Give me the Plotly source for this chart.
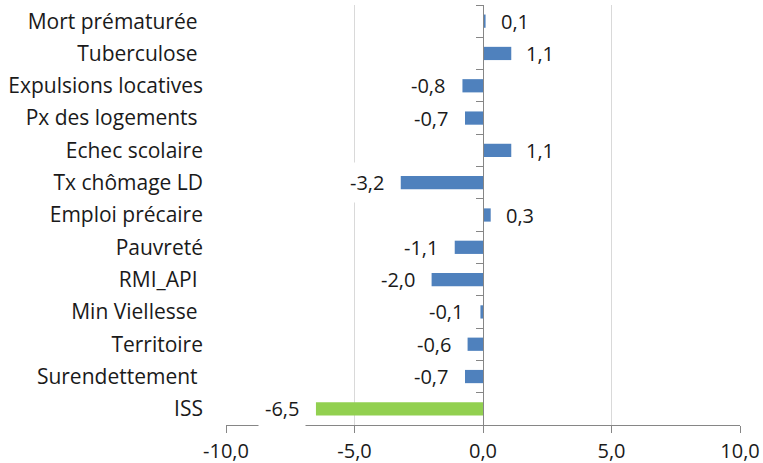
import plotly.graph_objects as go

categories = ["Mort prématurée\u00a0", "Tuberculose\u00a0", "Expulsions locatives", "Px des logements\u00a0",
              "Echec scolaire", "Tx chômage LD", "Emploi précaire", "Pauvreté", "RMI_API\u00a0",
              "Min Viellesse\u00a0", "Territoire", "Surendettement\u00a0", "ISS"]
values = [0.1, 1.1, -0.8, -0.7, 1.1, -3.2, 0.3, -1.1, -2.0, -0.1, -0.6, -0.7, -6.5]
colors = ["#4f81bd"] * 12 + ["#92d050"]
x_ticks = [-10, -5, 0, 5, 10]


def fmt(v):
    return f"{v:.1f}".replace(".", ",")


FONT = "Open Sans"
TXT = "#1a1a1a"
n = len(categories)

fig = go.Figure()
fig.add_trace(go.Bar(x=values, y=categories, orientation="h", marker=dict(color=colors, line=dict(width=0)),
                     width=0.41, hoverinfo="skip", showlegend=False))
fig.add_trace(go.Scatter(x=[0] * n, y=categories, yaxis="y2", mode="markers",
                         marker=dict(opacity=0), hoverinfo="skip", showlegend=False))

pad = 6
for c, v in zip(categories, values):
    fig.add_annotation(x=v, y=c, xref="x", yref="y", text=fmt(v),
                       showarrow=False, xanchor="left" if v >= 0 else "right",
                       xshift=(14 - pad) if v >= 0 else -(16 - pad),
                       bgcolor="white", borderpad=pad, font=dict(family=FONT, size=20, color=TXT))

fig.update_layout(
    width=763, height=463,
    margin=dict(l=226, r=23, t=5, b=38),
    plot_bgcolor="white", paper_bgcolor="white",
    font=dict(family=FONT, size=20, color=TXT),
    hovermode=False,
    xaxis=dict(range=[-10, 10], tickvals=x_ticks, ticktext=[fmt(t) for t in x_ticks],
               showgrid=True, gridcolor="#d9d9d9",
               gridwidth=1, zeroline=False, showline=True, linecolor="#868686", linewidth=1,
               ticks="outside", ticklen=7, tickcolor="#868686", ticklabelstandoff=1,
               tickfont=dict(family=FONT, size=20, color=TXT), automargin=False, fixedrange=True),
    yaxis=dict(type="category", categoryarray=categories, categoryorder="array", range=[n - 0.5, -0.5],
               showgrid=False, zeroline=False, showline=False, ticks="", ticklabelstandoff=22,
               tickfont=dict(family=FONT, size=21, color=TXT), automargin=False, fixedrange=True),
    yaxis2=dict(type="category", categoryarray=categories, categoryorder="array", range=[n - 0.5, -0.5],
                overlaying="y", anchor="free", position=0.5, side="left", showgrid=False, zeroline=False,
                showline=True, linecolor="#868686", linewidth=1, ticks="outside", ticklen=7,
                tickcolor="#868686", tickson="boundaries", showticklabels=False, automargin=False,
                fixedrange=True),
)

fig.write_html("out.html", config={"displayModeBar": False},
               post_script="document.body.style.margin='0';document.body.style.overflow='hidden';")
